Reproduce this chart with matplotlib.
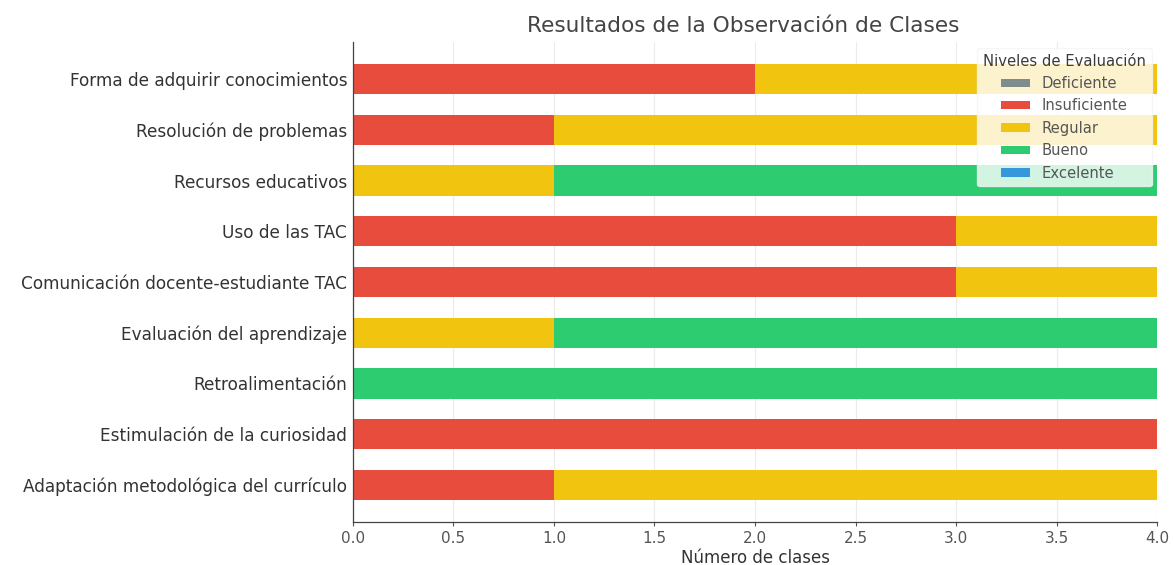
import matplotlib
matplotlib.use("Agg")
import matplotlib.pyplot as plt
import numpy as np

plt.rcParams["font.family"] = ["DejaVu Sans"]

categories = [
    "Forma de adquirir conocimientos",
    "Resolución de problemas",
    "Recursos educativos",
    "Uso de las TAC",
    "Comunicación docente-estudiante TAC",
    "Evaluación del aprendizaje",
    "Retroalimentación",
    "Estimulación de la curiosidad",
    "Adaptación metodológica del currículo",
]
levels = ["Deficiente", "Insuficiente", "Regular", "Bueno", "Excelente"]
deficiente = [0, 0, 0, 0, 0, 0, 0, 0, 0]
insuficiente = [2, 1, 0, 3, 3, 0, 0, 4, 1]
regular = [2, 3, 1, 1, 1, 1, 0, 0, 3]
bueno = [0, 0, 3, 0, 0, 3, 4, 0, 0]
excelente = [0, 0, 0, 0, 0, 0, 0, 0, 0]
colors = ["#7f8c8d", "#e74c3c", "#f1c40f", "#2ecc71", "#3498db"]

series = [deficiente, insuficiente, regular, bueno, excelente]

fig = plt.figure(figsize=(11.73, 5.65), dpi=100)
ax = fig.add_axes([0.3007, 0.0761, 0.686, 0.8496])

y = np.arange(len(categories))[::-1]
left = np.zeros(len(categories))
for name, vals, col in zip(levels, series, colors):
    vals = np.array(vals, dtype=float)
    ax.barh(y, vals, left=left, height=0.6, color=col, label=name, zorder=2)
    left += vals

ax.set_yticks(y)
ax.set_yticklabels(categories, fontsize=12.2, color="#333333")
ax.set_xlim(0, 4)
ax.set_xticks(np.arange(0, 4.01, 0.5))
ax.tick_params(axis="x", labelsize=11, colors="#555555", length=3)
ax.tick_params(axis="y", length=0, pad=4)
ax.xaxis.grid(True, color="#ebebeb", linewidth=0.8, zorder=0)
ax.set_axisbelow(True)
for s in ["top", "right"]:
    ax.spines[s].set_visible(False)
for s in ["left", "bottom"]:
    ax.spines[s].set_color("#444444")
    ax.spines[s].set_linewidth(0.9)

ax.set_xlabel("Número de clases", fontsize=12, color="#333333", labelpad=2)
ax.set_title("Resultados de la Observación de Clases", fontsize=15.6,
             color="#444444", pad=7, x=0.485)

leg = ax.legend(title="Niveles de Evaluación", loc="upper right", fontsize=10.6,
                title_fontsize=10.6, framealpha=0.8, edgecolor="#f4f4f4",
                handlelength=2.0, handleheight=0.5, handletextpad=0.75,
                labelspacing=0.5, borderaxespad=0.4)
leg.get_title().set_color("#3a3a3a")
for t in leg.get_texts():
    t.set_color("#555555")

fig.savefig("out.png", dpi=100)
